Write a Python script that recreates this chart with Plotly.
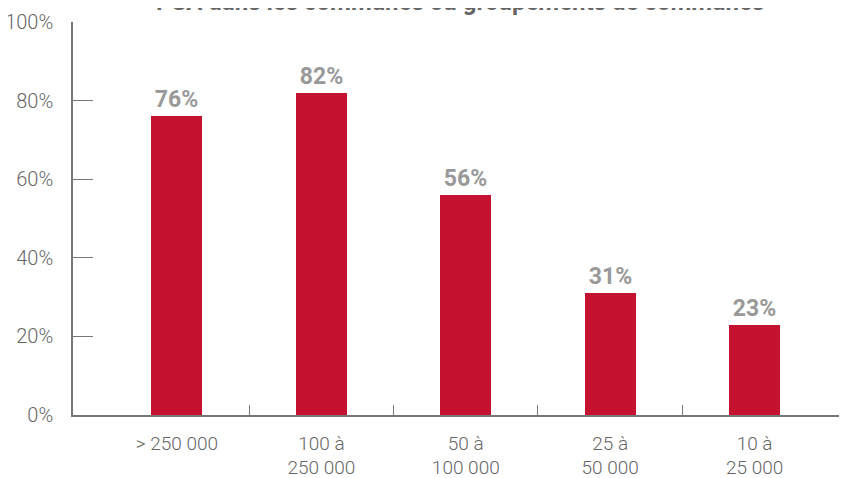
import plotly.graph_objects as go

categories = ["> 250 000", "100 à<br>250 000", "50 à<br>100 000", "25 à<br>50 000", "10 à<br>25 000"]
values = [76, 82, 56, 31, 23]
y_ticks = [0, 20, 40, 60, 80, 100]
y_tick_labels = ["0%", "20%", "40%", "60%", "80%", "100%"]
title_text = "PSA dans les communes ou groupements de communes"

x_pos = list(range(len(categories)))
FONT = "Roboto"

fig = go.Figure()
fig.add_trace(go.Bar(
    x=x_pos, y=values,
    width=0.353,
    marker=dict(color="#C41230", line=dict(width=0)),
    text=[f"{v}%" for v in values],
    textposition="outside",
    textfont=dict(family=FONT, size=23, color="#999999", weight="bold"),
    cliponaxis=False,
    showlegend=False,
    hoverinfo="skip",
))
# invisible trace on xaxis2 for boundary ticks
fig.add_trace(go.Scatter(x=[0.5], y=[0], xaxis="x2", mode="markers",
                         marker=dict(opacity=0), showlegend=False, hoverinfo="skip"))

xr = [-0.72, 4.64]
fig.update_layout(
    width=847, height=478,
    margin=dict(l=65, r=8, t=14, b=71),
    plot_bgcolor="white", paper_bgcolor="white",
    font=dict(family=FONT, color="#666666"),
    xaxis=dict(
        range=xr, tickvals=x_pos, ticktext=categories,
        showline=True, linecolor="#777777", linewidth=1.5,
        ticks="", showgrid=False, zeroline=False, automargin=False,
        ticklabelstandoff=10,
        tickfont=dict(family=FONT, size=19, color="#666666", weight=300),
        fixedrange=True,
    ),
    xaxis2=dict(
        range=xr, overlaying="x", anchor="y", side="bottom",
        tickvals=[0.5, 1.5, 2.5, 3.5], ticktext=["", "", "", ""],
        ticks="inside", ticklen=10, tickwidth=1.2, tickcolor="#777777",
        showline=False, showgrid=False, zeroline=False, automargin=False,
    ),
    yaxis=dict(
        range=[0, 100], tickvals=y_ticks, ticktext=y_tick_labels,
        showline=True, linecolor="#777777", linewidth=1.5,
        ticks="inside", ticklen=20, tickwidth=1.2, tickcolor="#777777",
        showgrid=False, zeroline=False, ticklabelstandoff=14, automargin=False,
        tickfont=dict(family=FONT, size=20, color="#666666", weight=300),
    ),
    bargap=0,
)
fig.add_annotation(
    text=title_text, xref="paper", yref="paper", x=0.5, y=1.052,
    xanchor="center", yanchor="middle", showarrow=False,
    font=dict(family=FONT, size=24, color="#666666", weight="bold"),
)
fig.write_html("out.html")
